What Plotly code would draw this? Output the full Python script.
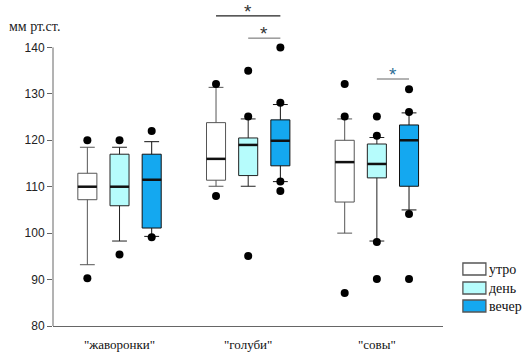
import plotly.graph_objects as go

groups = ['"жаворонки"', '"голуби"', '"совы"']
series = ["утро", "день", "вечер"]

# per series: values for the three groups
q1 = {"утро": [107.2, 111.4, 106.7], "день": [105.9, 112.4, 111.9], "вечер": [101.1, 114.5, 110.1]}
median = {"утро": [110.0, 116.0, 115.3], "день": [110.0, 119.0, 114.9], "вечер": [111.5, 119.9, 120.0]}
q3 = {"утро": [112.9, 123.8, 120.0], "день": [117.0, 120.5, 119.2], "вечер": [117.0, 124.4, 123.3]}
lowerfence = {"утро": [93.2, 110.1, 100.0], "день": [98.3, 110.1, 98.3], "вечер": [99.3, 111.1, 105.0]}
upperfence = {"утро": [118.5, 131.4, 124.6], "день": [118.5, 124.6, 120.6], "вечер": [119.7, 127.7, 125.9]}
outliers = {
    "утро": [[120.0, 90.3], [132.1, 108.0], [132.1, 125.1, 87.1]],
    "день": [[120.0, 95.4], [135.0, 125.1, 95.1], [125.1, 121.0, 98.1, 90.1]],
    "вечер": [[122.0, 99.1], [140.0, 128.1, 111.1, 109.1], [131.0, 126.1, 104.1, 90.1]],
}
yticks = [80, 90, 100, 110, 120, 130, 140]
# significance brackets: (group, series from, series to, level)
signif = [(1, 0, 2, 146.8), (1, 1, 2, 142.0), (2, 1, 2, 133.2)]

fills = {"утро": "#ffffff", "день": "#b6fcfc", "вечер": "#14a8f0"}
lines = {"утро": "#555555", "день": "#222222", "вечер": "#111111"}
offsets = {"утро": -0.25, "день": 0.0, "вечер": 0.25}
BW = 0.148

fig = go.Figure()
for s in series:
    pos = [g + offsets[s] for g in range(len(groups))]
    fig.add_trace(go.Box(
        x=pos, q1=q1[s], median=median[s], q3=q3[s],
        lowerfence=lowerfence[s], upperfence=upperfence[s],
        width=BW, whiskerwidth=0.78, boxpoints=False,
        fillcolor=fills[s], line=dict(color=lines[s], width=1),
        showlegend=False, name=s,
    ))
    # thick median lines
    mx, my = [], []
    for p, m in zip(pos, median[s]):
        mx += [p - BW / 2, p + BW / 2, None]
        my += [m, m, None]
    fig.add_trace(go.Scatter(x=mx, y=my, mode="lines", line=dict(color="#111111", width=2.5),
                             showlegend=False, hoverinfo="skip"))
    ox, oy = [], []
    for p, vals in zip(pos, outliers[s]):
        ox += [p] * len(vals)
        oy += vals
    fig.add_trace(go.Scatter(x=ox, y=oy, mode="markers",
                             marker=dict(color="black", size=8), showlegend=False,
                             cliponaxis=False))

# significance markers
for i, (g, a, b, lvl) in enumerate(signif):
    x0 = g + offsets[series[a]]
    x1 = g + offsets[series[b]]
    col = "#222222" if i == 0 else "#666666"
    fig.add_shape(type="line", x0=x0, x1=x1, y0=lvl, y1=lvl, xref="x", yref="y",
                  line=dict(color=col, width=1.3 if i == 0 else 1))
    fig.add_annotation(x=(x0 + x1) / 2, y=lvl, text="*", showarrow=False, yanchor="bottom",
                       yshift=-8, font=dict(family="Liberation Sans", size=19,
                                             color="#333333" if i < 2 else "#2f6f95"))

# y axis line drawn only from 80 to 140
fig.add_shape(type="line", xref="paper", yref="y", x0=0, x1=0, y0=yticks[0], y1=yticks[-1],
              line=dict(color="#666666", width=1))

# y title
fig.add_annotation(xref="paper", yref="paper", x=-0.118, y=0.923, xanchor="left",
                   yanchor="middle", text="мм рт.ст.", showarrow=False,
                   font=dict(family="Liberation Serif", size=14, color="#222222"))

# legend
for i, s in enumerate(series):
    yc = [269, 288, 306][i]
    y0 = (326 - yc - 6) / 325
    y1 = (326 - yc + 6) / 325
    fig.add_shape(type="rect", xref="paper", yref="paper", x0=1.051, x1=1.110, y0=y0, y1=y1,
                  fillcolor=fills[s], line=dict(color="#555555", width=1.3))
    fig.add_annotation(xref="paper", yref="paper", x=1.114, y=(326 - yc) / 325, xanchor="left",
                       yanchor="middle", text=s, showarrow=False,
                       font=dict(family="Liberation Serif", size=14, color="#111111"))

fig.update_layout(
    width=531, height=355,
    margin=dict(l=53, r=88, t=1, b=29, autoexpand=False),
    plot_bgcolor="white", paper_bgcolor="white",
    xaxis=dict(range=[-0.517, 2.514], tickvals=list(range(len(groups))), ticktext=groups,
               showline=True, linecolor="#666666", linewidth=1, ticks="", showgrid=False,
               automargin=False, ticklabelstandoff=6,
               zeroline=False, tickfont=dict(family="Liberation Serif", size=13, color="#111111")),
    yaxis=dict(range=[80, 150], tickvals=yticks, ticks="outside", ticklen=5, tickcolor="#666666",
               showline=False, showgrid=False, zeroline=False, automargin=False,
               tickfont=dict(family="Liberation Sans", size=12, color="#222222")),
    showlegend=False,
)
fig.write_html("out.html", config={"displayModeBar": False},
               post_script="document.body.style.margin='0';document.body.style.overflow='hidden';")
